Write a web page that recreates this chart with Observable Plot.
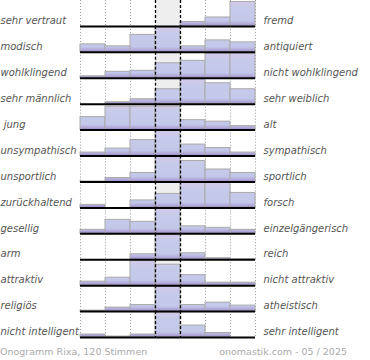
<!DOCTYPE html>
<html><head><meta charset="utf-8">
<script src="https://cdn.jsdelivr.net/npm/d3@7"></script>
<script src="https://cdn.jsdelivr.net/npm/@observablehq/plot@0.6"></script>
<style>
body{margin:0;background:#fff;}
#wrap{position:relative;width:370px;height:360px;overflow:hidden;}
.cap{position:absolute;top:346px;font-family:"DejaVu Sans";font-size:9.5px;line-height:12px;color:#aaaaaa;white-space:pre;}
</style></head><body><div id="wrap"></div>
<script>
const leftLabels = ["sehr vertraut","modisch","wohlklingend","sehr männlich","\u00a0jung","unsympathisch","unsportlich","zurückhaltend","gesellig","arm","attraktiv","religiös","nicht intelligent"];
const rightLabels = ["fremd","antiquiert","nicht wohlklingend","sehr weiblich","alt","sympathisch","sportlich","forsch","einzelgängerisch","reich","nicht attraktiv","atheistisch","sehr intelligent"];
// relative bar heights per row (tallest bar of a row ≈ 100), 7 scale steps
const values = [
  [0,0,0,0,18,36,98],
  [32,24,70,100,24,48,40],
  [8,26,30,60,70,98,98],
  [0,8,20,60,100,84,60],
  [52,94,94,94,40,34,16],
  [14,30,64,100,46,32,14],
  [2,16,36,100,84,50,36],
  [12,0,30,56,100,100,60],
  [16,56,48,100,30,24,16],
  [0,0,22,100,26,6,2],
  [16,32,100,84,42,12,12],
  [4,16,26,100,26,36,24],
  [12,4,12,100,48,18,0]
];
const captionLeft = "Onogramm Rixa, 120 Stimmen";
const captionRight = "onomastik.com - 05 / 2025";

const rowKeys = leftLabels.map((d, i) => i);
const table = values.flatMap((row, r) => row.map((v, c) => ({row: r, col: c, value: v})));
const yMax = 104;

const labelStyle = {fill: "#555555", fontStyle: "italic", fontSize: 10, lineAnchor: "middle", textAnchor: "start"};

const plot = Plot.plot({
  width: 370, height: 337,
  marginLeft: 80, marginRight: 115, marginTop: 0, marginBottom: 0,
  x: {domain: [0, 7], axis: null},
  y: {domain: [0, yMax], axis: null},
  fy: {domain: rowKeys, padding: 0, round: false, axis: null},
  style: {fontFamily: "DejaVu Sans", background: "white", overflow: "visible"},
  marks: [
    Plot.rect(rowKeys, {fy: d => d, x1: () => 3, x2: () => 4, y1: () => 0, y2: () => yMax, fill: "#eeeeee"}),
    Plot.ruleX([0, 1, 2, 5, 6, 7], {stroke: "#999999", strokeWidth: 1, strokeDasharray: "1,2"}),
    Plot.rect(table, {fy: "row", x1: d => d.col, x2: d => d.col + 1, y1: () => 0, y2: "value", fill: "url(#barGrad)", stroke: "#aaaaaa", strokeWidth: 1}),
    Plot.ruleX([3, 4], {stroke: "black", strokeWidth: 1.3, strokeDasharray: "3,2"}),
    Plot.ruleY([0], {stroke: "black", strokeWidth: 2}),
    Plot.text(rowKeys, {fy: d => d, text: d => leftLabels[d], frameAnchor: "bottom-left", dx: -80, dy: -5.5, ...labelStyle}),
    Plot.text(rowKeys, {fy: d => d, text: d => rightLabels[d], frameAnchor: "bottom-right", dx: 8, dy: -5.5, ...labelStyle})
  ]
});

const svg = d3.select(plot);
const grad = svg.insert("defs", ":first-child").append("linearGradient")
  .attr("id", "barGrad").attr("gradientUnits", "userSpaceOnUse")
  .attr("x1", 0).attr("y1", 0).attr("x2", 0).attr("y2", 26);
[[0, "#d6c8e8"], [0.3, "#c7cbea"], [0.8, "#c3c7e9"], [0.9, "#b5aedb"], [1, "#9d8bc7"]]
  .forEach(([o, c]) => grad.append("stop").attr("offset", o).attr("stop-color", c));

const wrap = document.getElementById("wrap");
wrap.appendChild(plot);
const cl = document.createElement("div"); cl.className = "cap"; cl.style.left = "0px"; cl.textContent = captionLeft; wrap.appendChild(cl);
const cr = document.createElement("div"); cr.className = "cap"; cr.style.right = "23px"; cr.textContent = captionRight; wrap.appendChild(cr);
</script></body></html>
